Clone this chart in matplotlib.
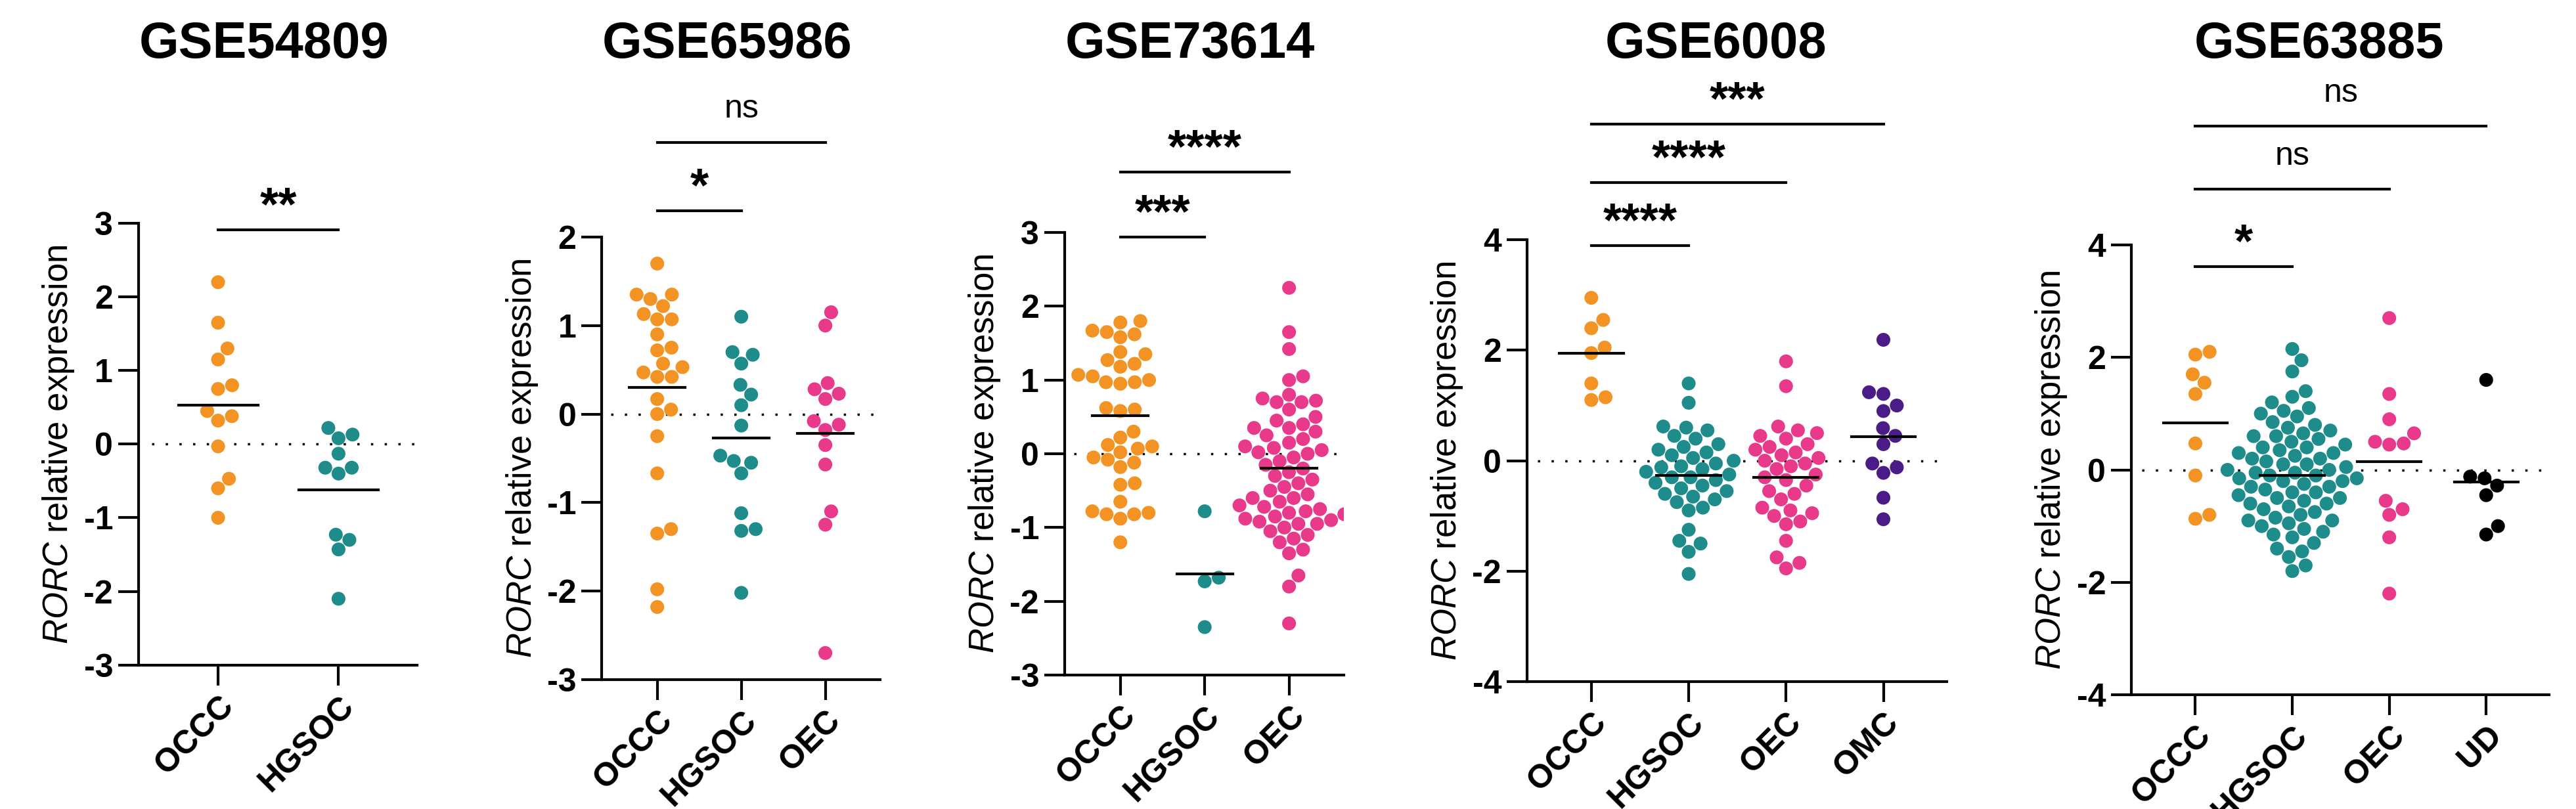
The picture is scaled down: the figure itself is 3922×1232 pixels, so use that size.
import matplotlib
matplotlib.use("Agg")
import matplotlib.pyplot as plt
import numpy as np

plt.rcParams['font.family'] = ['Liberation Sans', 'DejaVu Sans']
plt.rcParams['mathtext.fontset'] = 'custom'
plt.rcParams['mathtext.it'] = 'Liberation Sans:italic'
plt.rcParams['mathtext.rm'] = 'Liberation Sans'

ORANGE = '#F39323'
TEAL = '#1E8C8B'
PINK = '#E8398A'
PURPLE = '#4B1C87'
BLACK = '#000000'

# ---- data ----
titles = ['GSE54809', 'GSE65986', 'GSE73614', 'GSE6008', 'GSE63885']

g1_groups = ['OCCC', 'HGSOC']
g1_occc = [2.2, 1.65, 1.3, 1.15, 0.8, 0.75, 0.45, 0.38, 0.32, -0.03, -0.47, -0.6, -1.0]
g1_hgsoc = [0.22, 0.13, 0.08, -0.13, -0.32, -0.32, -0.4, -1.23, -1.3, -1.43, -2.1]
g1_center = [0.53, -0.62]

g2_groups = ['OCCC', 'HGSOC', 'OEC']
g2_occc = [1.7, 1.35, 1.35, 1.3, 1.22, 1.13, 1.07, 1.07, 0.9, 0.75, 0.72, 0.57, 0.53,
           0.47, 0.42, 0.42, 0.17, 0.05, 0.0, -0.25, -0.67, -1.3, -1.35, -1.98, -2.18]
g2_hgsoc = [1.1, 0.7, 0.67, 0.57, 0.33, 0.22, 0.1, -0.13, -0.47, -0.53, -0.55, -0.67,
            -1.12, -1.3, -1.32, -2.02]
g2_oec = [1.15, 1.0, 0.35, 0.28, 0.23, 0.17, -0.08, -0.12, -0.18, -0.35, -0.57, -1.1,
          -1.25, -2.7]
g2_center = [0.3, -0.27, -0.22]

g3_groups = ['OCCC', 'HGSOC', 'OEC']
g3_occc = [1.8, 1.78, 1.67, 1.65, 1.62, 1.58, 1.38, 1.35, 1.27, 1.22, 1.18, 1.07, 1.05,
           1.0, 0.97, 0.97, 0.95, 0.62, 0.6, 0.58, 0.3, 0.22, 0.12, 0.1, 0.07, 0.02,
           -0.05, -0.08, -0.12, -0.18, -0.4, -0.42, -0.65, -0.78, -0.8, -0.82, -0.82,
           -0.88, -1.2]
g3_hgsoc = [-0.78, -1.68, -1.73, -2.35]
g3_oec = [2.25, 1.65, 1.42, 1.05, 1.0, 0.8, 0.75, 0.72, 0.7, 0.7, 0.6, 0.5, 0.45, 0.4,
          0.35, 0.35, 0.3, 0.25, 0.2, 0.15, 0.1, 0.08, 0.05, 0.02, 0.0, -0.05, -0.1,
          -0.15, -0.2, -0.25, -0.3, -0.35, -0.4, -0.45, -0.5, -0.55, -0.6, -0.6, -0.65,
          -0.7, -0.72, -0.75, -0.78, -0.8, -0.82, -0.85, -0.88, -0.9, -0.92, -0.95,
          -0.95, -1.0, -1.05, -1.1, -1.15, -1.2, -1.3, -1.35, -1.65, -1.8, -2.3]
g3_center = [0.52, -1.63, -0.2]

g4_groups = ['OCCC', 'HGSOC', 'OEC', 'OMC']
g4_occc = [2.95, 2.55, 2.4, 2.05, 1.95, 1.4, 1.15, 1.1]
g4_hgsoc = [1.4, 1.05, 0.62, 0.6, 0.55, 0.45, 0.4, 0.3, 0.25, 0.2, 0.15, 0.1, 0.05, 0.0,
            -0.05, -0.1, -0.12, -0.15, -0.2, -0.25, -0.3, -0.3, -0.35, -0.4, -0.45,
            -0.5, -0.55, -0.6, -0.65, -0.7, -0.75, -0.85, -0.9, -1.25, -1.45, -1.5,
            -1.65, -2.05]
g4_oec = [1.8, 1.35, 0.62, 0.55, 0.5, 0.45, 0.4, 0.3, 0.25, 0.2, 0.15, 0.1, 0.05, 0.0,
          -0.05, -0.1, -0.15, -0.25, -0.3, -0.35, -0.45, -0.55, -0.6, -0.7, -0.85, -0.9,
          -0.95, -1.0, -1.1, -1.15, -1.45, -1.75, -1.85, -1.95]
g4_omc = [2.19, 1.24, 1.21, 1.0, 0.9, 0.59, 0.45, 0.3, -0.05, -0.12, -0.22, -0.67, -1.06]
g4_center = [1.95, -0.27, -0.3, 0.43]

g5_groups = ['OCCC', 'HGSOC', 'OEC', 'UD']
g5_occc = [2.1, 2.05, 1.7, 1.55, 1.35, 0.47, -0.1, -0.8, -0.87]
g5_hgsoc = [2.15, 1.95, 1.75, 1.4, 1.3, 1.2, 1.1, 1.05, 1.0, 0.95, 0.85, 0.8, 0.75, 0.7,
            0.65, 0.6, 0.6, 0.55, 0.5, 0.45, 0.4, 0.4, 0.35, 0.3, 0.3, 0.25, 0.2, 0.2,
            0.15, 0.1, 0.1, 0.05, 0.0, 0.0, -0.05, -0.05, -0.1, -0.1, -0.15, -0.15,
            -0.2, -0.2, -0.25, -0.3, -0.3, -0.35, -0.4, -0.4, -0.45, -0.5, -0.5, -0.55,
            -0.6, -0.6, -0.65, -0.7, -0.75, -0.8, -0.85, -0.9, -0.9, -0.95, -1.0, -1.05,
            -1.1, -1.15, -1.2, -1.3, -1.4, -1.45, -1.55, -1.7, -1.8]
g5_oec = [2.7, 1.35, 0.9, 0.65, 0.5, 0.47, 0.45, -0.55, -0.7, -0.8, -1.2, -2.2]
g5_ud = [1.6, -0.15, -0.12, -0.28, -0.45, -1.0, -1.15]
g5_center = [0.84, -0.1, 0.15, -0.22]

panels = [
    dict(groups=g1_groups, values=[g1_occc, g1_hgsoc], center=g1_center,
         colors=[ORANGE, TEAL], ylim=(-3, 3), yticks=[-3, -2, -1, 0, 1, 2, 3],
         sig=[(0, 1, 2.91, '**')], rect=[0.0538, 0.178, 0.108, 0.546]),
    dict(groups=g2_groups, values=[g2_occc, g2_hgsoc, g2_oec], center=g2_center,
         colors=[ORANGE, TEAL, PINK], ylim=(-3, 2), yticks=[-3, -2, -1, 0, 1, 2],
         sig=[(0, 1, 2.3, '*'), (0, 2, 3.07, 'ns')], rect=[0.2336, 0.160, 0.108, 0.547]),
    dict(groups=g3_groups, values=[g3_occc, g3_hgsoc, g3_oec], center=g3_center,
         colors=[ORANGE, TEAL, PINK], ylim=(-3, 3), yticks=[-3, -2, -1, 0, 1, 2, 3],
         sig=[(0, 1, 2.94, '***'), (0, 2, 3.82, '****')], rect=[0.4133, 0.1656, 0.1084, 0.547]),
    dict(groups=g4_groups, values=[g4_occc, g4_hgsoc, g4_oec, g4_omc], center=g4_center,
         colors=[ORANGE, TEAL, PINK, PURPLE], ylim=(-4, 4), yticks=[-4, -2, 0, 2, 4],
         sig=[(0, 1, 3.9, '****'), (0, 2, 5.04, '****'), (0, 3, 6.1, '***')],
         rect=[0.5928, 0.1575, 0.1629, 0.546]),
    dict(groups=g5_groups, values=[g5_occc, g5_hgsoc, g5_oec, g5_ud], center=g5_center,
         colors=[ORANGE, TEAL, PINK, BLACK], ylim=(-4, 4), yticks=[-4, -2, 0, 2, 4],
         sig=[(0, 1, 3.62, '*'), (0, 2, 4.99, 'ns'), (0, 3, 6.11, 'ns')],
         rect=[0.8274, 0.1412, 0.1622, 0.556]),
]

DPI = 100
fig = plt.figure(figsize=(39.22, 12.32), dpi=DPI)
MS = 230
D = np.sqrt(MS) * DPI / 72.0 + 1.0  # marker diameter in px


def swarm(ax, xc, ys):
    """greedy beeswarm offsets in display space"""
    pts = ax.transData.transform(np.column_stack([np.full(len(ys), xc), ys]))
    order = np.argsort(ys)
    placed = []
    out = np.zeros((len(ys), 2))
    for i in order:
        x0, y0 = pts[i]
        cands = [0.0]
        for (px, py) in placed:
            dy = y0 - py
            if abs(dy) < D:
                dx = np.sqrt(D ** 2 - dy ** 2)
                cands += [px - x0 + dx, px - x0 - dx]
        cands.sort(key=abs)
        for c in cands:
            ok = all((x0 + c - px) ** 2 + (y0 - py) ** 2 >= D ** 2 - 1e-6 for px, py in placed)
            if ok:
                break
        placed.append((x0 + c, y0))
        out[i] = (x0 + c, y0)
    return ax.transData.inverted().transform(out)[:, 0]


for title, p in zip(titles, panels):
    n = len(p['groups'])
    xlim = (-0.66, n - 0.35)
    ax = fig.add_axes(p['rect'])
    ax.set_xlim(*xlim)
    ax.set_ylim(*p['ylim'])
    for s in ['top', 'right']:
        ax.spines[s].set_visible(False)
    for s in ['left', 'bottom']:
        ax.spines[s].set_linewidth(3)
    ax.plot([-0.55, xlim[1]], [0, 0], ls=(0, (1, 5)), color='black', lw=2.5)
    for i, (vals, col) in enumerate(zip(p['values'], p['colors'])):
        xs = swarm(ax, i, np.array(vals))
        ax.scatter(xs, vals, s=MS, color=col, edgecolors='none', zorder=3)
        ax.plot([i - 0.33, i + 0.33], [p['center'][i]] * 2, color='black', lw=3, zorder=4)
    ax.set_xticks(range(n))
    ax.set_xticklabels(p['groups'], rotation=45, ha='right', rotation_mode='anchor',
                       fontsize=36, fontweight='bold')
    ax.set_yticks(p['yticks'])
    ax.set_yticklabels([str(t) for t in p['yticks']], fontsize=36, fontweight='bold')
    ax.tick_params(axis='both', direction='out', length=22, width=3, pad=6)
    ax.set_ylabel(r'$\mathit{RORC}$ relative expression', fontsize=38, labelpad=8)
    for a, b, yv, lab in p['sig']:
        ax.plot([a, b], [yv, yv], color='black', lw=3, clip_on=False)
        if lab == 'ns':
            ax.annotate(lab, ((a + b) / 2, yv), xytext=(0, 20), textcoords='offset points',
                        ha='center', va='bottom', fontsize=36, annotation_clip=False)
        else:
            ax.annotate(lab, ((a + b) / 2, yv), xytext=(0, 0), textcoords='offset points',
                        ha='center', va='bottom', fontsize=52, fontweight='bold',
                        annotation_clip=False)
    bb = ax.get_position()
    fig.text(bb.x0 + bb.width * 0.45, 0.975, title, ha='center', va='top',
             fontsize=56, fontweight='bold')

fig.savefig('out.png', dpi=DPI, facecolor='white')
